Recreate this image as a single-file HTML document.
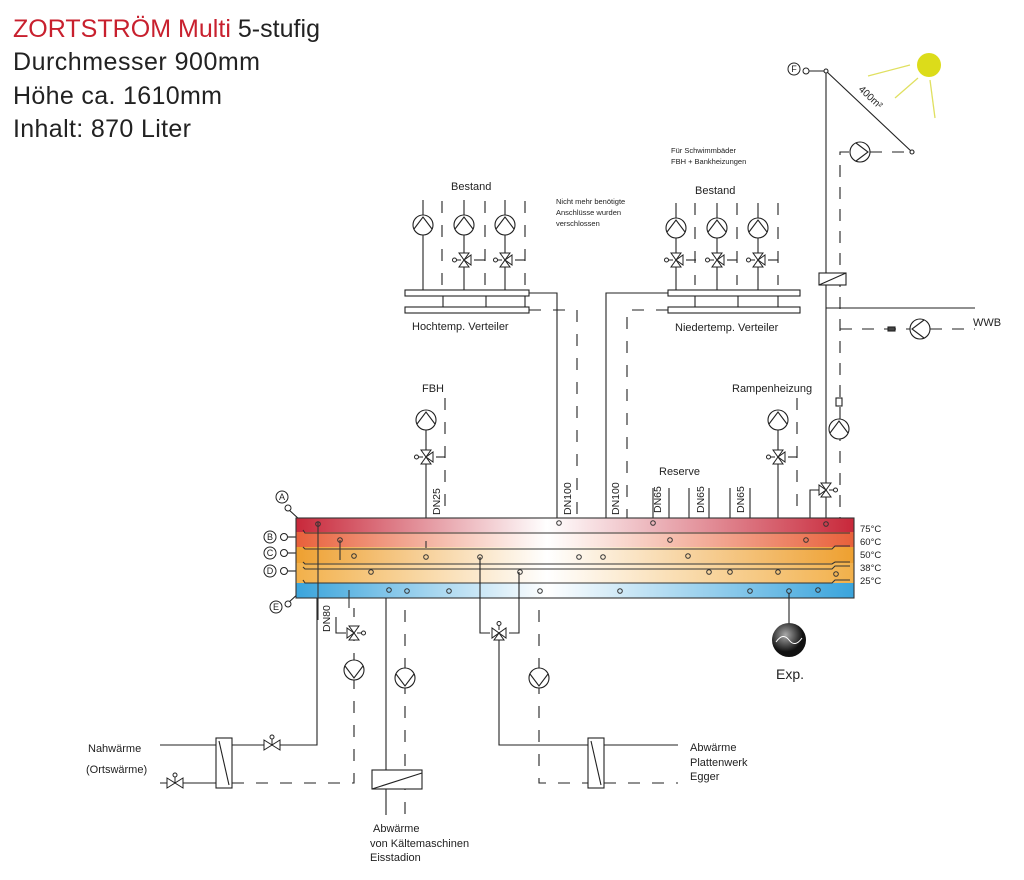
<!DOCTYPE html>
<html><head><meta charset="utf-8"><style>
html,body{margin:0;padding:0;background:#fff}
svg{display:block}
text{font-family:"Liberation Sans",sans-serif;fill:#222}
</style></head><body>
<svg width="1024" height="880" viewBox="0 0 1024 880" xmlns="http://www.w3.org/2000/svg">
<defs>
<g id="pd"><circle r="10" fill="#fff" stroke="#222" stroke-width="1.1"/><path d="M-4,-9 L8,0 L-4,9" fill="none" stroke="#222" stroke-width="1.1"/></g>
<g id="pu"><circle r="10" fill="#fff" stroke="#222" stroke-width="1.1"/><path d="M-9,4 L0,-8 L9,4" fill="none" stroke="#222" stroke-width="1.1"/></g>
<g id="pdn"><circle r="10" fill="#fff" stroke="#222" stroke-width="1.1"/><path d="M-9,-4 L0,8 L9,-4" fill="none" stroke="#222" stroke-width="1.1"/></g>
<g id="pr"><circle r="10" fill="#fff" stroke="#222" stroke-width="1.1"/><path d="M4,-9 L-8,0 L4,9" fill="none" stroke="#222" stroke-width="1.1"/></g>
<g id="v3" stroke="#222" stroke-width="1" fill="#fff"><path d="M-5,-7 L5,-7 L0,0 Z M-5,7 L5,7 L0,0 Z M7,-5 L7,5 L0,0 Z"/><line x1="-3" y1="0" x2="-8" y2="0"/><circle cx="-9.5" cy="0" r="2"/></g>
<g id="v2" stroke="#222" stroke-width="1" fill="#fff"><path d="M-8,-5 L-8,5 L0,0 Z M8,-5 L8,5 L0,0 Z"/><line x1="0" y1="0" x2="0" y2="-6"/><circle cx="0" cy="-8" r="2"/></g>
<linearGradient id="g1"><stop offset="0" stop-color="#c8283a"/><stop offset=".45" stop-color="#fff"/><stop offset="1" stop-color="#c8283a"/></linearGradient>
<linearGradient id="g2"><stop offset="0" stop-color="#e8603a"/><stop offset=".45" stop-color="#fff"/><stop offset="1" stop-color="#e8603a"/></linearGradient>
<linearGradient id="g3"><stop offset="0" stop-color="#eea030"/><stop offset=".45" stop-color="#fff"/><stop offset="1" stop-color="#eea030"/></linearGradient>
<linearGradient id="g4"><stop offset="0" stop-color="#f2b04a"/><stop offset=".45" stop-color="#fff"/><stop offset="1" stop-color="#f2b04a"/></linearGradient>
<linearGradient id="g5"><stop offset="0" stop-color="#3aa4dc"/><stop offset=".45" stop-color="#fff"/><stop offset="1" stop-color="#3aa4dc"/></linearGradient>
<radialGradient id="ge" cx=".4" cy=".35"><stop offset="0" stop-color="#aaa"/><stop offset="1" stop-color="#111"/></radialGradient>
</defs>

<!-- Title -->
<text x="13" y="37" font-size="25" textLength="307"><tspan fill="#c8202e" style="fill:#c8202e">ZORTSTRÖM Multi</tspan> 5-stufig</text>
<text x="13" y="70" font-size="25" textLength="247">Durchmesser 900mm</text>
<text x="13" y="104" font-size="25" textLength="209">Höhe ca. 1610mm</text>
<text x="13" y="137" font-size="25" textLength="178">Inhalt: 870 Liter</text>

<g stroke="#222" stroke-width="1.1" fill="none">
<rect x="405" y="290" width="124" height="6" fill="#fff"/>
<rect x="405" y="307" width="124" height="6" fill="#fff"/>
<line x1="443" y1="296" x2="443" y2="307"/><line x1="486" y1="296" x2="486" y2="307"/><line x1="525" y1="296" x2="525" y2="307"/>
<line x1="423" y1="200" x2="423" y2="290"/><line x1="464" y1="200" x2="464" y2="290"/><line x1="505" y1="200" x2="505" y2="290"/>
<line x1="474" y1="260" x2="485" y2="260"/><line x1="515" y1="260" x2="525" y2="260"/>
<g stroke-dasharray="12,12"><line x1="442" y1="201" x2="442" y2="285"/><line x1="485" y1="201" x2="485" y2="285"/><line x1="525" y1="201" x2="525" y2="285"/></g>
<rect x="668" y="290" width="132" height="6" fill="#fff"/>
<rect x="668" y="307" width="132" height="6" fill="#fff"/>
<line x1="695" y1="296" x2="695" y2="307"/><line x1="738" y1="296" x2="738" y2="307"/><line x1="778" y1="296" x2="778" y2="307"/>
<line x1="676" y1="203" x2="676" y2="290"/><line x1="717" y1="203" x2="717" y2="290"/><line x1="758" y1="203" x2="758" y2="290"/>
<line x1="686" y1="260" x2="696" y2="260"/><line x1="727" y1="260" x2="737" y2="260"/><line x1="768" y1="260" x2="778" y2="260"/>
<g stroke-dasharray="12,12"><line x1="695" y1="203" x2="695" y2="285"/><line x1="737" y1="203" x2="737" y2="285"/><line x1="778" y1="203" x2="778" y2="285"/></g>
<polyline points="529,293 557,293 557,518"/>
<polyline points="529,310 577,310 577,518" stroke-dasharray="12,12"/>
<polyline points="668,293 606,293 606,518"/>
<polyline points="668,310 627,310 627,518" stroke-dasharray="12,12"/>
<line x1="426" y1="410" x2="426" y2="555"/>
<line x1="436" y1="457" x2="445" y2="457"/>
<line x1="445" y1="398" x2="445" y2="545" stroke-dasharray="12,12"/>
<line x1="778" y1="410" x2="778" y2="572"/>
<line x1="788" y1="457" x2="797" y2="457"/>
<line x1="797" y1="398" x2="797" y2="545" stroke-dasharray="12,12"/>
<line x1="653" y1="488" x2="653" y2="523"/><line x1="669" y1="488" x2="669" y2="540"/>
<line x1="689" y1="488" x2="689" y2="555"/><line x1="709" y1="488" x2="709" y2="572"/>
<line x1="730" y1="488" x2="730" y2="572"/><line x1="750" y1="488" x2="750" y2="590"/>
<line x1="803" y1="71" x2="826" y2="71"/>
<line x1="826" y1="71" x2="912" y2="152"/>
<line x1="826" y1="71" x2="826" y2="524"/>
<polyline points="840,529 840,152 850,152" stroke-dasharray="12,10"/>
<line x1="870" y1="152" x2="912" y2="152" stroke-dasharray="12,10"/>
<rect x="819" y="273" width="27" height="12" fill="#fff"/>
<line x1="819" y1="285" x2="846" y2="273"/>
<line x1="826" y1="308" x2="975" y2="308"/>
<line x1="840" y1="329" x2="910" y2="329" stroke-dasharray="12,10"/>
<line x1="930" y1="329" x2="975" y2="329" stroke-dasharray="12,10"/>
<rect x="888" y="327" width="7" height="4" fill="#444"/>
<rect x="836" y="398" width="6" height="8" fill="#fff"/>
<polyline points="826,490 810,490 810,540"/>
<circle cx="912" cy="152" r="2" fill="#fff"/><circle cx="826" cy="71" r="2" fill="#fff"/>
<line x1="288" y1="509" x2="300" y2="520"/><line x1="288" y1="537" x2="300" y2="537"/>
<line x1="288" y1="553" x2="300" y2="553"/><line x1="288" y1="571" x2="300" y2="571"/>
<line x1="288" y1="603" x2="300" y2="592"/>
</g>

<g>
<rect x="296" y="518" width="558" height="14" fill="url(#g1)"/>
<rect x="296" y="532" width="558" height="15" fill="url(#g2)"/>
<rect x="296" y="547" width="558" height="16" fill="url(#g3)"/>
<rect x="296" y="563" width="558" height="20" fill="url(#g4)"/>
<rect x="296" y="583" width="558" height="15" fill="url(#g5)"/>
<g stroke="#333" stroke-width="1.1" fill="none">
<rect x="296" y="518" width="558" height="80"/>
<polyline points="303,530 305,533 850,533"/>
<polyline points="303,547 305,549 832,549 835,546 850,546"/>
<polyline points="303,562 305,564 832,564 835,562 850,562"/>
<polyline points="303,567 305,569 832,569 835,566 850,566"/>
<polyline points="303,580 305,583 832,583 835,580 850,580"/>
<line x1="318" y1="522" x2="318" y2="620"/>
<line x1="340" y1="540" x2="340" y2="560"/>
<line x1="349" y1="590" x2="349" y2="608"/>
<line x1="426" y1="541" x2="426" y2="548"/>
</g>
<g fill="none" stroke="#333" stroke-width="1">
<circle cx="318" cy="524" r="2.3"/><circle cx="340" cy="540" r="2.3"/><circle cx="354" cy="556" r="2.3"/>
<circle cx="371" cy="572" r="2.3"/><circle cx="389" cy="590" r="2.3"/><circle cx="407" cy="591" r="2.3"/>
<circle cx="426" cy="557" r="2.3"/><circle cx="449" cy="591" r="2.3"/><circle cx="480" cy="557" r="2.3"/>
<circle cx="520" cy="572" r="2.3"/><circle cx="540" cy="591" r="2.3"/><circle cx="559" cy="523" r="2.3"/>
<circle cx="579" cy="557" r="2.3"/><circle cx="603" cy="557" r="2.3"/><circle cx="620" cy="591" r="2.3"/>
<circle cx="653" cy="523" r="2.3"/><circle cx="670" cy="540" r="2.3"/><circle cx="688" cy="556" r="2.3"/>
<circle cx="709" cy="572" r="2.3"/><circle cx="730" cy="572" r="2.3"/><circle cx="750" cy="591" r="2.3"/>
<circle cx="778" cy="572" r="2.3"/><circle cx="789" cy="591" r="2.3"/><circle cx="806" cy="540" r="2.3"/>
<circle cx="826" cy="524" r="2.3"/><circle cx="836" cy="574" r="2.3"/><circle cx="818" cy="590" r="2.3"/>
</g>
</g>

<g fill="#fff" stroke="#222" stroke-width="1">
<circle cx="282" cy="497" r="6"/><circle cx="288" cy="508" r="3"/>
<circle cx="270" cy="537" r="6"/><circle cx="284" cy="537" r="3.5"/>
<circle cx="270" cy="553" r="6"/><circle cx="284" cy="553" r="3.5"/>
<circle cx="270" cy="571" r="6"/><circle cx="284" cy="571" r="3.5"/>
<circle cx="276" cy="607" r="6"/><circle cx="288" cy="604" r="3"/>
<circle cx="794" cy="69" r="6"/><circle cx="806" cy="71" r="3"/>
</g>
<g font-size="9" text-anchor="middle">
<text x="282" y="500">A</text><text x="270" y="540">B</text><text x="270" y="556">C</text><text x="270" y="574">D</text><text x="276" y="610">E</text><text x="794" y="72">F</text>
</g>

<g font-size="9.5"><text x="860" y="532">75°C</text><text x="860" y="545">60°C</text><text x="860" y="558">50°C</text><text x="860" y="571">38°C</text><text x="860" y="584">25°C</text></g>

<g stroke="#222" stroke-width="1.1" fill="none">
<line x1="160" y1="745" x2="216" y2="745"/>
<polyline points="232,745 317,745 317,598"/>
<line x1="160" y1="783" x2="216" y2="783"/>
<polyline points="232,783 354,783 354,608" stroke-dasharray="12,12"/>
<polyline points="336,617 336,633 346,633"/>
<rect x="216" y="738" width="16" height="50" fill="#fff"/><line x1="219" y1="741" x2="229" y2="785"/>
<line x1="386" y1="598" x2="386" y2="815"/>
<line x1="405" y1="610" x2="405" y2="815" stroke-dasharray="12,12"/>
<rect x="372" y="770" width="50" height="19" fill="#fff"/><line x1="372" y1="789" x2="422" y2="773"/>
<polyline points="480,557 480,633 490,633"/><polyline points="519,572 519,633 509,633"/>
<polyline points="499,640 499,745 588,745"/>
<line x1="604" y1="745" x2="678" y2="745"/>
<polyline points="539,610 539,783 588,783" stroke-dasharray="12,12"/>
<line x1="604" y1="783" x2="678" y2="783" stroke-dasharray="12,12"/>
<rect x="588" y="738" width="16" height="50" fill="#fff"/><line x1="591" y1="741" x2="601" y2="785"/>
<line x1="789" y1="593" x2="789" y2="625"/>
</g>

<use href="#pu" x="423" y="225"/><use href="#pu" x="464" y="225"/><use href="#pu" x="505" y="225"/>
<use href="#pu" x="676" y="228"/><use href="#pu" x="717" y="228"/><use href="#pu" x="758" y="228"/>
<use href="#pu" x="426" y="420"/><use href="#pu" x="778" y="420"/><use href="#pu" x="839" y="429"/>
<use href="#pd" x="860" y="152"/><use href="#pr" x="920" y="329"/>
<use href="#pdn" x="354" y="670"/><use href="#pdn" x="405" y="678"/><use href="#pdn" x="539" y="678"/>
<use href="#v3" x="464" y="260"/><use href="#v3" x="505" y="260"/>
<use href="#v3" x="676" y="260"/><use href="#v3" x="717" y="260"/><use href="#v3" x="758" y="260"/>
<use href="#v3" x="426" y="457"/><use href="#v3" x="778" y="457"/>
<g transform="translate(826,490) scale(-1,1)"><use href="#v3"/></g>
<g transform="translate(354,633) scale(-1,1)"><use href="#v3"/></g>
<g transform="translate(499,633) rotate(90)"><use href="#v3" transform="scale(1,-1)"/></g>
<use href="#v2" x="272" y="745"/><use href="#v2" x="175" y="783"/>

<circle cx="929" cy="65" r="12" fill="#dcdc1a"/>
<g stroke="#e0e060" stroke-width="1.3"><line x1="868" y1="76" x2="910" y2="65"/><line x1="895" y1="98" x2="918" y2="78"/><line x1="930" y1="80" x2="935" y2="118"/></g>
<text x="858" y="90" font-size="10" transform="rotate(43 858 90)">400m²</text>

<circle cx="789" cy="640" r="17" fill="url(#ge)"/>
<path d="M776,642 q7,-10 13,-2 q6,8 13,-2" fill="none" stroke="#fff" stroke-width="1"/>
<text x="776" y="679" font-size="14">Exp.</text>

<g font-size="11">
<text x="451" y="190">Bestand</text>
<text x="695" y="194">Bestand</text>
<text x="412" y="330">Hochtemp. Verteiler</text>
<text x="675" y="331">Niedertemp. Verteiler</text>
<text x="422" y="392">FBH</text>
<text x="732" y="392">Rampenheizung</text>
<text x="659" y="475">Reserve</text>
<text x="973" y="326">WWB</text>
<text x="88" y="752">Nahwärme</text>
<text x="86" y="773">(Ortswärme)</text>
<text x="690" y="751">Abwärme</text>
<text x="690" y="766">Plattenwerk</text>
<text x="690" y="780">Egger</text>
<text x="373" y="832">Abwärme</text>
<text x="370" y="847">von Kältemaschinen</text>
<text x="370" y="861">Eisstadion</text>
</g>
<g font-size="7.5">
<text x="556" y="204">Nicht mehr benötigte</text>
<text x="556" y="215">Anschlüsse wurden</text>
<text x="556" y="226">verschlossen</text>
<text x="671" y="153">Für Schwimmbäder</text>
<text x="671" y="164">FBH + Bankheizungen</text>
</g>
<g font-size="10.5">
<text transform="translate(440,515) rotate(-90)">DN25</text>
<text transform="translate(571,515) rotate(-90)">DN100</text>
<text transform="translate(619,515) rotate(-90)">DN100</text>
<text transform="translate(661,513) rotate(-90)">DN65</text>
<text transform="translate(704,513) rotate(-90)">DN65</text>
<text transform="translate(744,513) rotate(-90)">DN65</text>
<text transform="translate(330,632) rotate(-90)">DN80</text>
</g>
</svg>
</body></html>
